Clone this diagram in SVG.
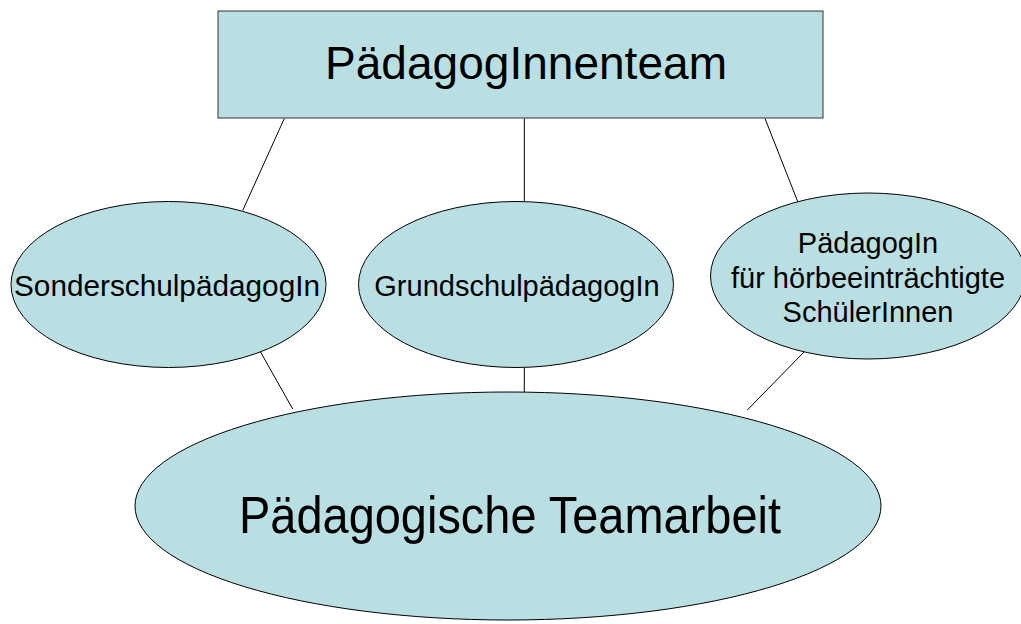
<svg xmlns="http://www.w3.org/2000/svg" width="1021" height="624" viewBox="0 0 1021 624">
<style>
.shape{fill:#b9dfe3;stroke:#000;stroke-width:1}
.conn line{stroke:#000;stroke-width:1}
text{font-family:"Liberation Sans",Arial,sans-serif;fill:#000;text-anchor:middle}
.s{font-size:29px}
</style>
<rect width="1021" height="624" fill="#fff"/>
<g id="connectors" class="conn">
<line x1="284.3" y1="118.5" x2="242.7" y2="210.5"/>
<line x1="524.3" y1="118.5" x2="524.3" y2="202"/>
<line x1="765" y1="118.5" x2="797.7" y2="201.5"/>
<line x1="260" y1="351" x2="292.7" y2="409"/>
<line x1="524.3" y1="367.5" x2="524.3" y2="392.5"/>
<line x1="805" y1="351" x2="747.3" y2="410"/>
</g>
<g id="team">
<rect class="shape" x="218" y="11" width="605" height="107" style="stroke:#333"/>
<text x="526" y="79" style="font-size:45.5px" textLength="402" lengthAdjust="spacingAndGlyphs">PädagogInnenteam</text>
</g>
<g id="sonder">
<ellipse class="shape" cx="168.5" cy="284.5" rx="157.5" ry="83"/>
<text class="s" x="167" y="296" textLength="306" lengthAdjust="spacingAndGlyphs">SonderschulpädagogIn</text>
</g>
<g id="grund">
<ellipse class="shape" cx="516" cy="284.5" rx="157.5" ry="83"/>
<text class="s" x="517" y="296">GrundschulpädagogIn</text>
</g>
<g id="hoer">
<ellipse class="shape" cx="868" cy="276" rx="157.5" ry="83"/>
<text class="s" x="868" y="252.5">PädagogIn</text>
<text class="s" x="868" y="287.5">für hörbeeinträchtigte</text>
<text class="s" x="868" y="322">SchülerInnen</text>
</g>
<g id="teamarbeit">
<ellipse class="shape" cx="508" cy="506" rx="373" ry="114"/>
<text x="510" y="532.5" style="font-size:52px" textLength="542" lengthAdjust="spacingAndGlyphs">Pädagogische Teamarbeit</text>
</g>
</svg>
